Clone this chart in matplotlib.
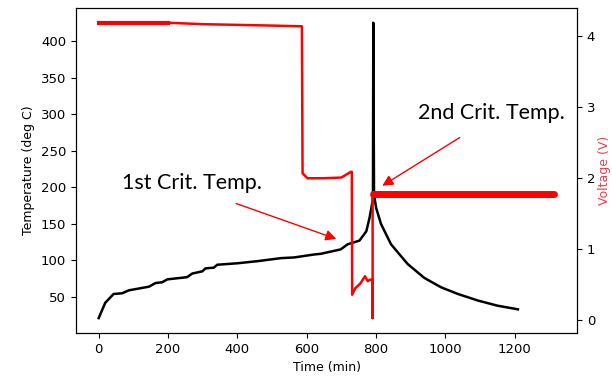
import matplotlib
matplotlib.use("Agg")
import matplotlib.pyplot as plt
import numpy as np

# temperature trace (black, left axis)
time_T = [0, 19, 43, 68, 87, 145, 164, 183, 198, 255, 270, 299, 308, 332, 342,
          400, 460, 525, 564, 621, 641, 698, 718, 752, 766, 772, 781, 790, 791,
          792, 794, 800, 814, 843, 891, 939, 988, 1036, 1094, 1150, 1209]
temp = [21, 42, 54, 55, 59, 64, 69, 70, 74, 77, 82, 85, 89, 90, 94,
        96, 99, 103, 104, 108, 109, 115, 122, 127, 136, 140, 158, 181, 190,
        425, 190, 172, 150, 122, 95, 76, 63, 54, 45, 38, 33]

# voltage trace (red, right axis)
time_V = [0, 100, 200, 300, 400, 500, 586, 588, 602, 650, 700, 727, 730, 731,
          740, 755, 768, 776, 782, 790, 790, 790, 1000, 1314]
volt = [4.18, 4.18, 4.18, 4.16, 4.15, 4.14, 4.13, 2.06, 1.99, 1.99, 2.00, 2.08,
        2.08, 0.35, 0.44, 0.51, 0.61, 0.54, 0.56, 0.56, 0.02, 1.77, 1.77, 1.77]

# annotations: label position, arrow tail, arrow head (time, temp)
labels = ["1st Crit. Temp.", "2nd Crit. Temp."]
label_pos = [(68, 206), (921, 301)]
arrow_tail = [(389, 179), (1048, 270)]
arrow_head = [(693, 128), (811, 200)]

fig = plt.figure(figsize=(6.12, 3.8), dpi=100)
ax = fig.add_axes([0.124, 0.124, 0.819, 0.855])

ax.plot(time_T, temp, color='k', lw=1.8)
ax.set_xlabel("Time (min)", fontsize=9)
ax.set_ylabel("Temperature (deg C)", fontsize=9)
ax.set_xticks([0, 200, 400, 600, 800, 1000, 1200])
ax.set_yticks([50, 100, 150, 200, 250, 300, 350, 400])
ax.tick_params(labelsize=9.5)

ax2 = ax.twinx()
ax2.plot(time_V, volt, color='red', lw=1.8)
# thicker parts of the voltage record
ax2.plot(time_V[:3], volt[:3], color='red', lw=3)
ax2.plot(time_V[-3:], volt[-3:], color='red', lw=5, solid_capstyle='round')
ax2.set_ylabel("Voltage (V)", color='#e8404c', fontsize=9, labelpad=2)
ax2.set_yticks([0, 1, 2, 3, 4])
ax2.tick_params(labelsize=9.5)

arrow = dict(arrowstyle='-|>', color='red', lw=1, mutation_scale=16)
for lab, pos, tail, head in zip(labels, label_pos, arrow_tail, arrow_head):
    ax.text(pos[0], pos[1], lab, fontsize=15.5, family='Lato',
            ha='left', va='center')
    ax.annotate("", xy=head, xytext=tail, arrowprops=arrow)

fig.savefig("out.png", dpi=100)
